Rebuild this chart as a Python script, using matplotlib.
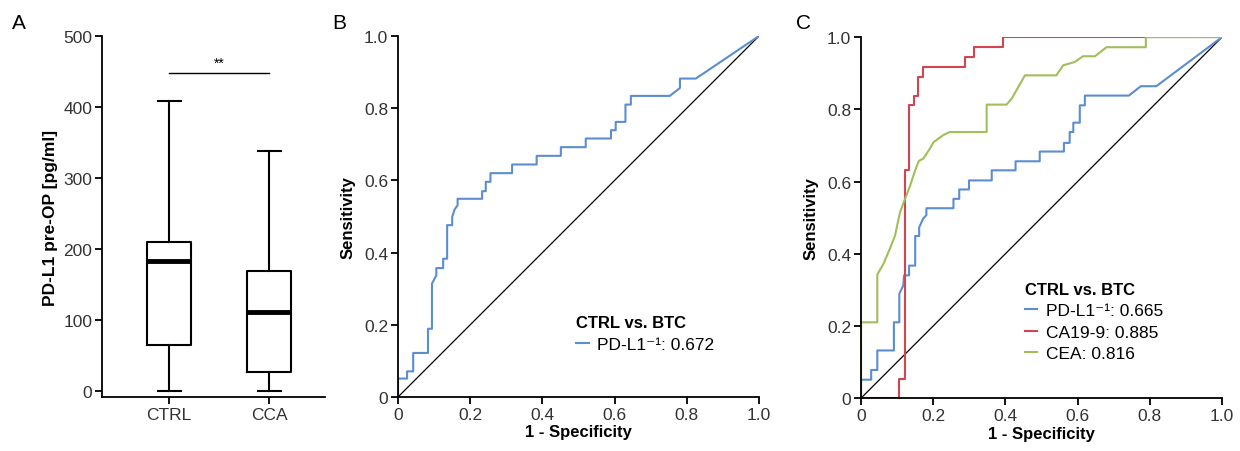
import numpy as np
import matplotlib
matplotlib.use("Agg")
import matplotlib.pyplot as plt

plt.rcParams["font.family"] = ["Liberation Sans", "DejaVu Sans"]
plt.rcParams["font.size"] = 12

# panel A: box plot summary (pg/ml)
groups = ["CTRL", "CCA"]
box_min = [0, 0]
box_q1 = [65, 27]
box_med = [183, 111]
box_q3 = [210, 169]
box_max = [408, 338]

# panel B: PD-L1 ROC (CTRL vs. BTC)
b_fpr = [0, 0, 0.025, 0.025, 0.042, 0.042, 0.083, 0.083, 0.094, 0.094, 0.106, 0.106,
         0.111, 0.111, 0.125, 0.125, 0.136, 0.136, 0.150, 0.150, 0.157, 0.165, 0.165,
         0.233, 0.233, 0.243, 0.243, 0.256, 0.256, 0.316, 0.316, 0.384, 0.384, 0.451,
         0.451, 0.520, 0.520, 0.590, 0.590, 0.603, 0.603, 0.630, 0.630, 0.645, 0.645,
         0.753, 0.781, 0.781, 0.825, 1.0]
b_tpr = [0, 0.051, 0.051, 0.071, 0.071, 0.122, 0.122, 0.189, 0.189, 0.314, 0.337, 0.357,
         0.357, 0.357, 0.357, 0.383, 0.383, 0.476, 0.476, 0.499, 0.520, 0.531, 0.549,
         0.549, 0.570, 0.570, 0.596, 0.596, 0.620, 0.620, 0.644, 0.644, 0.668, 0.668,
         0.692, 0.692, 0.716, 0.716, 0.739, 0.739, 0.762, 0.762, 0.810, 0.810, 0.834,
         0.834, 0.856, 0.882, 0.882, 1.0]
b_auc = 0.672

# panel C: PD-L1, CA19-9, CEA ROC curves
c_pd_fpr = [0, 0, 0.028, 0.028, 0.045, 0.045, 0.091, 0.091, 0.106, 0.106, 0.117, 0.119,
            0.133, 0.133, 0.150, 0.150, 0.161, 0.161, 0.172, 0.181, 0.181, 0.256, 0.256,
            0.272, 0.272, 0.299, 0.299, 0.362, 0.362, 0.428, 0.428, 0.495, 0.495, 0.562,
            0.562, 0.578, 0.578, 0.588, 0.588, 0.606, 0.606, 0.620, 0.620, 0.742, 0.775,
            0.818, 1.0]
c_pd_tpr = [0, 0.051, 0.051, 0.078, 0.078, 0.132, 0.132, 0.210, 0.210, 0.289, 0.312, 0.340,
            0.340, 0.367, 0.367, 0.449, 0.449, 0.473, 0.497, 0.507, 0.526, 0.526, 0.552,
            0.552, 0.578, 0.578, 0.603, 0.603, 0.631, 0.631, 0.656, 0.656, 0.683, 0.683,
            0.707, 0.707, 0.737, 0.737, 0.763, 0.763, 0.811, 0.811, 0.838, 0.838, 0.864,
            0.864, 1.0]
c_ca_fpr = [0, 0.106, 0.106, 0.122, 0.122, 0.134, 0.134, 0.147, 0.147, 0.159, 0.159,
            0.171, 0.171, 0.288, 0.288, 0.314, 0.314, 0.394, 0.394, 1.0]
c_ca_tpr = [0, 0, 0.052, 0.052, 0.631, 0.631, 0.813, 0.813, 0.838, 0.838, 0.889,
            0.889, 0.917, 0.917, 0.945, 0.945, 0.972, 0.972, 1.0, 1.0]
c_cea_fpr = [0, 0, 0.045, 0.045, 0.062, 0.080, 0.094, 0.108, 0.122, 0.136, 0.150, 0.160,
             0.172, 0.190, 0.201, 0.227, 0.245, 0.348, 0.348, 0.403, 0.417, 0.454, 0.541,
             0.560, 0.592, 0.615, 0.648, 0.680, 0.789, 0.789, 1.0]
c_cea_tpr = [0, 0.210, 0.210, 0.342, 0.372, 0.414, 0.450, 0.515, 0.552, 0.589, 0.631, 0.657,
             0.663, 0.690, 0.709, 0.728, 0.737, 0.737, 0.813, 0.813, 0.829, 0.894, 0.894,
             0.922, 0.931, 0.947, 0.947, 0.972, 0.972, 1.0, 1.0]
c_auc = [0.665, 0.885, 0.816]

blue = "#5B8DD0"
red = "#D2444F"
green = "#A0BE5A"

fig = plt.figure(figsize=(12.4, 4.52), dpi=100)

def style(ax):
    for s in ["top", "right"]:
        ax.spines[s].set_visible(False)
    for s in ["left", "bottom"]:
        ax.spines[s].set_linewidth(1.3)
    ax.tick_params(direction="out", length=5, width=1.3, pad=2, labelsize=12.5,
                   labelcolor="#333333")

# A
axA = fig.add_axes([0.0823, 0.1195, 0.1798, 0.7987])
stats = []
for i, g in enumerate(groups):
    stats.append({"label": g, "whislo": box_min[i], "q1": box_q1[i], "med": box_med[i],
                  "q3": box_q3[i], "whishi": box_max[i], "fliers": []})
axA.bxp(stats, positions=[1, 2], widths=0.44, showfliers=False,
        boxprops=dict(color="black", linewidth=1.5),
        medianprops=dict(color="black", linewidth=3.5),
        whiskerprops=dict(color="black", linewidth=1.5),
        capprops=dict(color="black", linewidth=1.5), capwidths=0.23)
axA.set_xlim(0.33, 2.56)
axA.set_ylim(-8.5, 500)
axA.set_yticks([0, 100, 200, 300, 400, 500])
style(axA)
axA.set_ylabel("PD-L1 pre-OP [pg/ml]", fontweight="bold", labelpad=4, fontsize=12.5)
axA.plot([1, 2], [448, 448], color="black", linewidth=1)
axA.text(1.5, 452, "**", ha="center", va="bottom", fontsize=10)

# B
axB = fig.add_axes([0.321, 0.1195, 0.2911, 0.7987])
axB.plot([0, 1], [0, 1], color="black", linewidth=0.9)
lb, = axB.plot(b_fpr, b_tpr, color=blue, linewidth=1.5)
axB.set_xlim(0, 1)
axB.set_ylim(0, 1)
ticks = [0, 0.2, 0.4, 0.6, 0.8, 1.0]
labels = ["0", "0.2", "0.4", "0.6", "0.8", "1.0"]
axB.set_xticks(ticks, labels)
axB.set_yticks(ticks, labels)
style(axB)
axB.set_xlabel("1 - Specificity", fontweight="bold", labelpad=2)
axB.set_ylabel("Sensitivity", fontweight="bold", labelpad=6)
legB = axB.legend([lb], ["PD-L1\u207b\u00b9: %.3f" % b_auc], title="CTRL vs. BTC",
                  loc="upper left", bbox_to_anchor=(0.47, 0.25), frameon=False,
                  handlelength=0.7, handletextpad=0.5, borderpad=0, fontsize=12.5,
                  labelspacing=0.35)
legB.get_title().set_fontweight("bold")
legB._legend_box.align = "left"

# C
axC = fig.add_axes([0.6944, 0.117, 0.2911, 0.7987])
axC.plot([0, 1], [0, 1], color="black", linewidth=0.9)
l1, = axC.plot(c_pd_fpr, c_pd_tpr, color=blue, linewidth=1.5)
l2, = axC.plot(c_ca_fpr, c_ca_tpr, color=red, linewidth=1.5)
l3, = axC.plot(c_cea_fpr, c_cea_tpr, color=green, linewidth=1.5)
axC.set_xlim(0, 1)
axC.set_ylim(0, 1)
axC.set_xticks(ticks, labels)
axC.set_yticks(ticks, labels)
style(axC)
axC.set_xlabel("1 - Specificity", fontweight="bold", labelpad=2)
axC.set_ylabel("Sensitivity", fontweight="bold", labelpad=6)
names = ["PD-L1\u207b\u00b9", "CA19-9", "CEA"]
legC = axC.legend([l1, l2, l3], ["%s: %.3f" % (n, a) for n, a in zip(names, c_auc)],
                  title="CTRL vs. BTC", loc="upper left", bbox_to_anchor=(0.43, 0.345),
                  frameon=False, handlelength=0.7, handletextpad=0.5, borderpad=0,
                  fontsize=12.5, labelspacing=0.35)
legC.get_title().set_fontweight("bold")
legC._legend_box.align = "left"

fig.text(0.010, 0.935, "A", fontsize=15)
fig.text(0.268, 0.935, "B", fontsize=15)
fig.text(0.642, 0.935, "C", fontsize=15)

fig.savefig("out.png", dpi=100)
plt.close(fig)
